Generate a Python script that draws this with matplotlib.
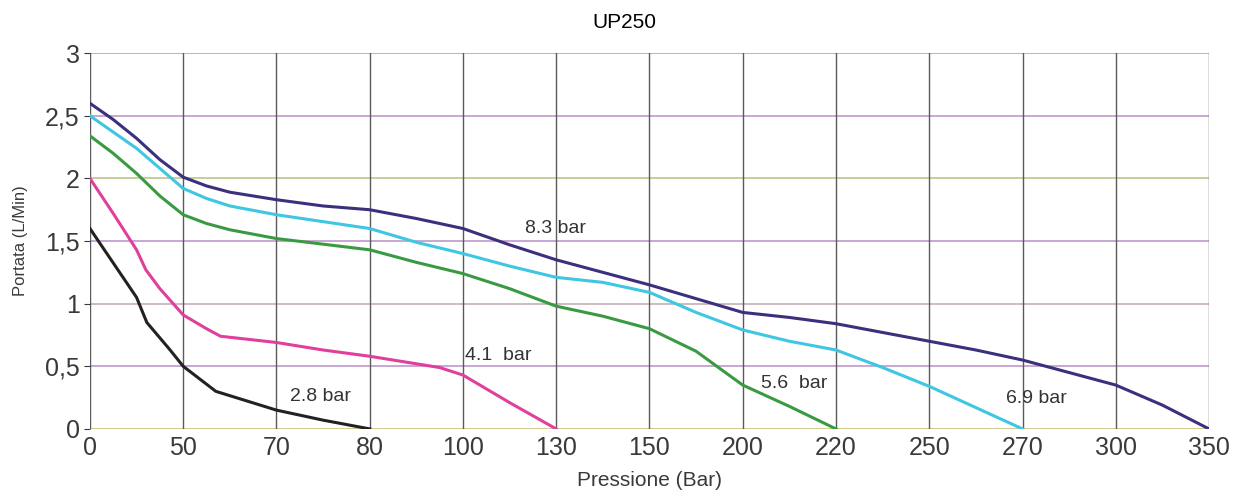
import numpy as np
import matplotlib
matplotlib.use("Agg")
import matplotlib.pyplot as plt

plt.rcParams['font.family'] = ['Liberation Sans', 'DejaVu Sans']

# pressure ticks (the axis is evenly spaced per tick, not linear)
tick_bar = [0, 50, 70, 80, 100, 130, 150, 200, 220, 250, 270, 300, 350]
y_ticks = [0, 0.5, 1, 1.5, 2, 2.5, 3]
y_labels = ["0", "0,5", "1", "1,5", "2", "2,5", "3"]

# curves: pressure (bar) vs flow (L/min)
p_83 = [0, 12.5, 25, 37.5, 50, 55, 60, 70, 75, 80, 90, 100, 115, 130, 140, 150, 175, 200, 210, 220, 235, 250, 260, 270, 285, 300, 325, 350]
q_83 = [2.60, 2.47, 2.32, 2.15, 2.01, 1.94, 1.89, 1.83, 1.78, 1.75, 1.68, 1.60, 1.47, 1.35, 1.25, 1.15, 1.04, 0.93, 0.89, 0.84, 0.77, 0.70, 0.63, 0.55, 0.45, 0.35, 0.19, 0.0]

p_69 = [0, 12.5, 25, 37.5, 50, 55, 60, 70, 80, 90, 100, 115, 130, 140, 150, 175, 200, 210, 220, 235, 250, 260, 270]
q_69 = [2.50, 2.37, 2.24, 2.08, 1.92, 1.84, 1.78, 1.71, 1.60, 1.49, 1.40, 1.30, 1.21, 1.17, 1.09, 0.93, 0.79, 0.70, 0.63, 0.49, 0.34, 0.17, 0.0]

p_56 = [0, 12.5, 25, 37.5, 50, 55, 60, 70, 80, 90, 100, 115, 130, 140, 145, 150, 175, 187, 200, 210, 220]
q_56 = [2.34, 2.20, 2.04, 1.86, 1.71, 1.64, 1.59, 1.52, 1.43, 1.33, 1.24, 1.12, 0.98, 0.90, 0.85, 0.80, 0.62, 0.49, 0.35, 0.18, 0.0]

p_41 = [0, 12.5, 25, 30, 37.5, 50, 55, 58, 70, 75, 80, 90, 95, 100, 115, 130]
q_41 = [2.00, 1.72, 1.43, 1.27, 1.12, 0.91, 0.80, 0.74, 0.69, 0.63, 0.58, 0.52, 0.49, 0.43, 0.21, 0.0]

p_28 = [0, 25, 30.5, 43, 50, 57, 70, 75, 80]
q_28 = [1.60, 1.05, 0.85, 0.63, 0.50, 0.30, 0.15, 0.07, 0.0]

idx = np.arange(len(tick_bar))
def fwd(x):
    return np.interp(x, tick_bar, idx)
def inv(x):
    return np.interp(x, idx, tick_bar)

fig = plt.figure(figsize=(12.49, 4.97), dpi=100)
ax = fig.add_axes([0.072, 0.137, 0.896, 0.756])
ax.set_xscale('function', functions=(fwd, inv))
ax.set_xlim(0, 350)
ax.set_ylim(0, 3)

# grid
hcolors = ['#c8bc70', '#b890c8', '#c0a8b0', '#b890c8', '#b8c080', '#b890c8', '#b890c8']
for yv, c in zip(y_ticks, hcolors):
    ax.axhline(yv, color=c, lw=1.1, zorder=1)
for xv in tick_bar:
    ax.axvline(xv, color='#5a5a5a', lw=1.0, zorder=1)
for s in ax.spines.values():
    s.set_visible(False)

ax.plot(p_83, q_83, color='#3b2f7e', lw=2.2, zorder=3)
ax.plot(p_69, q_69, color='#3ec6e2', lw=2.2, zorder=3)
ax.plot(p_56, q_56, color='#3a9a42', lw=2.2, zorder=3)
ax.plot(p_41, q_41, color='#e0409c', lw=2.2, zorder=3)
ax.plot(p_28, q_28, color='#222222', lw=2.2, zorder=3)

lab = dict(fontsize=14, color='#333333', va='center', ha='left', zorder=4)
ax.text(120, 1.60, "8.3 bar", **lab)
ax.text(100.7, 0.59, "4.1  bar", **lab)
ax.text(71.4, 0.26, "2.8 bar", **lab)
ax.text(204, 0.36, "5.6  bar", **lab)
ax.text(266.5, 0.24, "6.9 bar", **lab)

ax.set_xticks(tick_bar)
ax.set_xticklabels([str(t) for t in tick_bar])
ax.set_yticks(y_ticks)
ax.set_yticklabels(y_labels)
ax.tick_params(axis='both', labelsize=18, colors='#3a3a3a', length=4, width=0.8)
ax.tick_params(axis='x', length=0, pad=5)
ax.minorticks_off()

ax.set_xlabel("Pressione (Bar)", fontsize=15, color='#3a3a3a', labelpad=8)
ax.set_ylabel("Portata (L/Min)", fontsize=12, color='#3a3a3a', labelpad=12)
fig.text(0.5, 0.955, "UP250", ha='center', va='center', fontsize=15, color='black')

fig.savefig("out.png", dpi=100)
